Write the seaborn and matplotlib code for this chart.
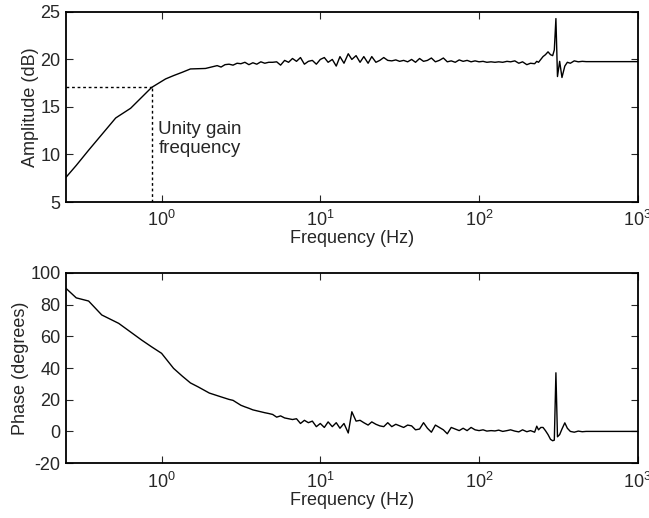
import numpy as np
import pandas as pd
import matplotlib
matplotlib.use("Agg")
import matplotlib.pyplot as plt
from matplotlib.ticker import NullLocator, LogFormatterMathtext
import seaborn as sns

# ---------------- data ----------------
freq_hz = [0.25, 0.29, 0.347, 0.42, 0.514, 0.537, 0.638, 0.748, 0.865, 1.0, 1.06, 1.19,
           1.35, 1.52, 1.7, 1.89,
           2.0, 2.12, 2.24, 2.37, 2.51, 2.66, 2.82, 2.99, 3.16, 3.35, 3.55, 3.76, 3.98,
           4.22, 4.47, 4.73, 5.01, 5.31, 5.62, 5.96, 6.31, 6.68, 7.08, 7.50, 7.94, 8.41,
           8.91, 9.44, 10.0, 10.6, 11.2, 11.9, 12.6, 13.3, 14.1, 15.0, 15.8, 16.8, 17.8,
           18.8, 20.0, 21.1, 22.4, 23.7, 25.1, 26.6, 28.2, 29.9, 31.6, 33.5, 35.5, 37.6,
           39.8, 42.2, 44.7, 47.3, 50.1, 53.1, 56.2, 59.6, 63.1, 66.8, 70.8, 75.0, 79.4,
           84.1, 89.1, 94.4, 100, 106, 112, 119, 126, 133, 141, 150, 158, 168, 178, 188,
           200, 211, 224, 231, 237, 245, 253, 262, 272, 282, 291, 298, 305, 312, 322,
           333, 347, 360, 376, 398, 422, 447, 473, 501, 531, 562, 596, 631, 668, 708,
           750, 794, 841, 891, 944, 1000]

amplitude_db = [7.6, 8.85, 10.45, 12.1, 13.84, 14.05, 14.86, 16.0, 17.05, 17.7, 17.95, 18.3,
                18.65, 19.0, 19.02, 19.05,
                19.15, 19.25, 19.35, 19.2, 19.45, 19.5, 19.4, 19.6, 19.55, 19.7, 19.45, 19.65, 19.5,
                19.75, 19.6, 19.7, 19.7, 19.75, 19.4, 19.9, 19.7, 20.1, 19.8, 20.2, 19.5, 19.8,
                19.9, 19.5, 20.0, 20.2, 19.7, 20.0, 19.3, 20.3, 19.6, 20.6, 20.0, 20.4, 19.7,
                20.3, 19.6, 20.3, 19.7, 19.9, 20.2, 19.9, 19.85, 19.95, 19.8, 19.9, 19.75, 20.0,
                19.7, 20.1, 19.8, 19.9, 20.15, 19.75, 19.9, 20.15, 19.75, 19.85, 19.7, 19.95, 19.8,
                19.9, 19.75, 19.85, 19.75, 19.8, 19.7, 19.75, 19.7, 19.75, 19.7, 19.8, 19.75, 19.85, 19.6, 19.75,
                19.45, 19.6, 19.55, 19.8, 19.7, 20.0, 20.3, 20.5, 20.8, 20.5, 20.4, 21.0, 24.3, 18.2, 19.8,
                18.1, 19.3, 19.7, 19.6, 19.85, 19.75, 19.8, 19.77, 19.77, 19.77, 19.77, 19.77, 19.77, 19.77, 19.77,
                19.77, 19.77, 19.77, 19.77, 19.77, 19.77]

phase_deg = [90.3, 84.3, 82.3, 73.5, 69.2, 68.2, 62.7, 57.7, 53.4, 49.3, 46.1, 39.8,
             34.9, 30.6, 28.1, 25.6,
             24.2, 23.4, 22.6, 21.8, 21.0, 20.2, 19.6, 18.0, 16.5, 15.5, 14.6, 13.6, 13.0,
             12.4, 11.8, 11.3, 10.7, 9.0, 9.8, 8.5, 8.0, 7.5, 8.0, 5.0, 7.0, 5.5,
             6.5, 3.0, 5.0, 2.5, 6.0, 3.0, 5.5, 2.0, 5.0, -1.0, 12.4, 6.5, 7.0,
             5.5, 4.0, 6.0, 4.5, 3.5, 3.0, 5.5, 3.0, 4.5, 3.5, 2.5, 4.0, 3.5,
             1.0, 1.5, 5.5, 2.0, -0.5, 4.0, 2.5, 1.0, -1.5, 2.5, 1.5, 0.5, 2.0,
             0.5, 2.5, 1.0, 0.5, 1.0, 0.2, 0.5, 0.3, 0.8, 0.0, 0.5, 1.0, 0.2, -0.3, 1.0,
             -0.2, 0.5, -0.5, 3.3, 1.0, 2.5, 2.5, 0.5, -2.0, -5.0, -5.9, -5.5, 37.0, -3.4, -2.0,
             1.5, 5.4, 2.0, 0.0, -0.5, 0.2, -0.2, 0.0, 0.0, 0.0, 0.0, 0.0, 0.0, 0.0, 0.0,
             0.0, 0.0, 0.0, 0.0, 0.0, 0.0]

unity_gain_freq = 0.865
unity_gain_amp = 17.1

x_ticks = [1, 10, 100, 1000]
amp_ticks = [5, 10, 15, 20, 25]
phase_ticks = [-20, 0, 20, 40, 60, 80, 100]

df = pd.DataFrame({"freq": freq_hz, "amp": amplitude_db, "phase": phase_deg})

# ---------------- style ----------------
sns.set_style("ticks")
plt.rcParams["font.family"] = ["Liberation Sans", "DejaVu Sans"]
plt.rcParams["mathtext.fontset"] = "custom"
plt.rcParams["mathtext.rm"] = "Liberation Sans"
plt.rcParams["mathtext.it"] = "Liberation Sans:italic"
plt.rcParams["xtick.direction"] = "in"
plt.rcParams["ytick.direction"] = "in"

FS = 13

fig = plt.figure(figsize=(6.49, 5.18), dpi=100)
ax1 = fig.add_axes([0.1017, 0.610, 0.881, 0.367])
ax2 = fig.add_axes([0.1017, 0.106, 0.881, 0.367])

sns.lineplot(data=df, x="freq", y="amp", ax=ax1, color="black", lw=1.0,
             estimator=None, sort=False)
sns.lineplot(data=df, x="freq", y="phase", ax=ax2, color="black", lw=1.0,
             estimator=None, sort=False)

# dashed unity gain markers
ax1.plot([0.25, unity_gain_freq], [unity_gain_amp, unity_gain_amp], color="black",
         lw=1.0, linestyle=(0, (2, 2)))
ax1.plot([unity_gain_freq, unity_gain_freq], [5, unity_gain_amp], color="black",
         lw=1.0, linestyle=(0, (2, 2)))
ax1.text(0.955, 13.5, "Unity gain\nfrequency", fontsize=FS + 0.5, ha="left", va="top",
         linespacing=1.1)

for ax, ticks, lim, lab in [(ax1, amp_ticks, (5, 25), "Amplitude (dB)"),
                            (ax2, phase_ticks, (-20, 100), "Phase (degrees)")]:
    ax.set_xscale("log")
    ax.set_xlim(0.25, 1000)
    ax.set_ylim(*lim)
    ax.set_yticks(ticks)
    ax.set_yticklabels([str(t) for t in ticks])
    ax.set_xticks(x_ticks)
    ax.xaxis.set_minor_locator(NullLocator())
    ax.xaxis.set_major_formatter(LogFormatterMathtext())
    ax.set_xlabel("Frequency (Hz)", fontsize=FS, labelpad=0)
    ax.set_ylabel(lab, fontsize=FS, labelpad=1)
    ax.tick_params(axis="both", which="both", direction="in", top=True, right=True,
                   length=5, width=0.8, labelsize=FS, pad=4)
    ax.tick_params(axis="x", pad=6)
    for s in ax.spines.values():
        s.set_visible(True)
        s.set_linewidth(1.3)
        s.set_color("black")

fig.savefig("out.png", dpi=100)
